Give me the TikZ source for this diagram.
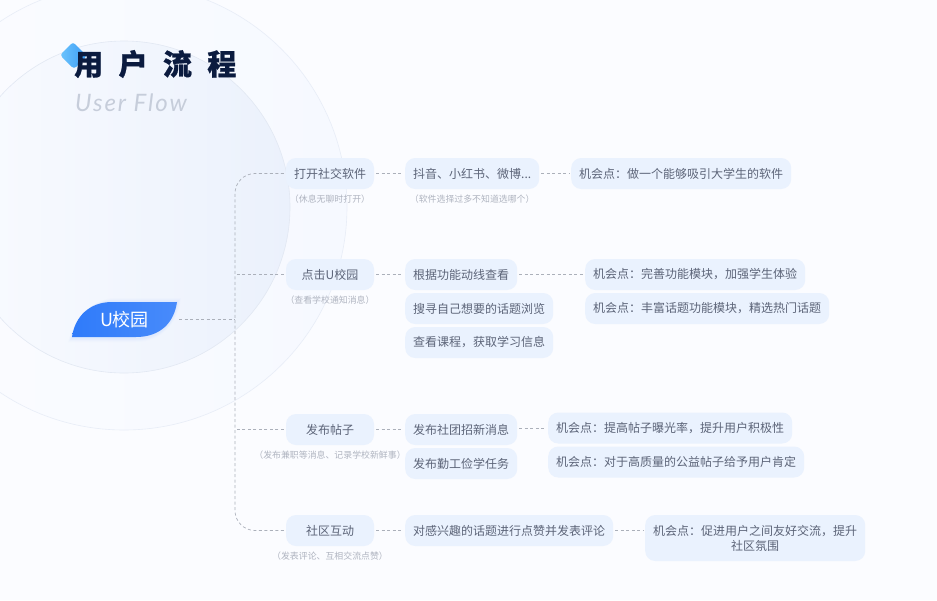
\documentclass[tikz,border=0pt]{standalone}
\usepackage{fontspec}
\usepackage{xcolor}
\setmainfont{Noto Sans CJK SC}
\newfontfamily\titlefont[LetterSpace=53,FakeBold=0.8]{Noto Sans CJK SC}
\newfontfamily\latinfont[LetterSpace=8]{Lato}
\usetikzlibrary{arrows.meta, positioning, calc}
\definecolor{pagebg}{HTML}{FBFCFF}
\definecolor{outerring}{HTML}{F6F9FF}
\definecolor{innerring}{HTML}{EBF1FC}
\definecolor{innerleft}{HTML}{F9FBFF}
\definecolor{ringline}{HTML}{E8EDF7}
\definecolor{ringline2}{HTML}{E2E8F3}
\definecolor{diamondA}{HTML}{6CC4FC}
\definecolor{diamondB}{HTML}{3A9BF6}
\definecolor{boxfill}{HTML}{EAF2FE}
\definecolor{boxtext}{HTML}{5C6478}
\definecolor{notetext}{HTML}{AFB4C0}
\definecolor{linkgray}{HTML}{ABB0BA}
\definecolor{rootblue}{HTML}{2F7BFA}
\definecolor{titledark}{HTML}{0B1B3F}
\definecolor{subgray}{HTML}{C6CDDA}

\begin{document}
\begin{tikzpicture}[
    x=1pt, y=-1pt,
    stagebox/.style={fill=boxfill, rounded corners=10pt, minimum width=88pt, minimum height=31pt, inner sep=0pt, text=boxtext, font=\fontsize{12}{15}\selectfont},
    actionbox/.style={fill=boxfill, rounded corners=10pt, minimum height=31pt, inner xsep=8pt, inner ysep=0pt, anchor=west, text=boxtext, font=\fontsize{12}{15}\selectfont},
    notelabel/.style={inner sep=0pt, text=notetext, font=\fontsize{8.9}{10}\selectfont},
    link/.style={draw=linkgray, line width=0.7pt, dash pattern=on 3pt off 2.5pt, shorten >=2pt, shorten <=2pt},
]
    \useasboundingbox (0,0) rectangle (937,600);
    \fill[pagebg] (0,0) rectangle (937,600);

    % Background circles
    \begin{scope}
        \clip (0,0) rectangle (937,600);
        \shade[left color=pagebg, right color=outerring] (124,207) circle[radius=223pt];
        \draw[ringline, line width=0.6pt] (124,207) circle[radius=223pt];
        \shade[left color=innerleft, right color=innerring] (124,207) circle[radius=166pt];
        \draw[ringline2, line width=0.6pt] (124,207) circle[radius=166pt];
    \end{scope}

    % Title
    \shade[left color=diamondA, right color=diamondB, rounded corners=3pt] (73,42) -- (87,56) -- (74,69) -- (60,55) -- cycle;
    \node[inner sep=0pt, anchor=west, text=titledark, font=\titlefont\bfseries\fontsize{29}{30}\selectfont] (title) at (74,64) {用户流程};
    \node[inner sep=0pt, anchor=west, text=subgray, font=\latinfont\itshape\fontsize{24}{28}\selectfont] (subtitle) at (75,103) {User Flow};

    % Root
    \foreach \d/\o in {1/0.12, 2/0.10, 3/0.08, 4/0.06}
        \fill[rootblue!30, opacity=\o] (72-\d,338+\d) .. controls (76,316) and (90,302) .. (112,302-\d) -- (177+\d,302-\d) .. controls (174+\d,324) and (160,338+\d) .. (136,338+\d) -- cycle;
    \shade[left color=rootblue, right color=rootblue!88!white] (72,337) .. controls (75,316) and (90,302) .. (112,302) -- (177,302) .. controls (174,323) and (160,337) .. (136,337) -- cycle;
    \node[minimum width=105pt, minimum height=35pt, inner sep=0pt, text=white, font=\fontsize{18}{20}\selectfont] (root) at (124.5,319.5) {U校园};
    \coordinate (trunk) at (235,319.5);

    % Stages
    \node[stagebox] (open) at (330,173.5) {打开社交软件};
    \node[notelabel, below=5pt of open] (opennote) {（休息无聊时打开）};
    \node[stagebox] (click) at (330,274.5) {点击U校园};
    \node[notelabel, below=5pt of click] (clicknote) {（查看学校通知消息）};
    \node[stagebox] (post) at (330,429.5) {发布帖子};
    \node[notelabel, below=5pt of post] (postnote) {（发布兼职等消息、记录学校新鲜事）};
    \node[stagebox] (talk) at (330,530.5) {社区互动};
    \node[notelabel, below=5pt of talk] (talknote) {（发表评论、互相交流点赞）};

    % Actions
    \node[actionbox] (apps) at (405,173.5) {抖音、小红书、微博...};
    \node[actionbox] (route) at (405,274.5) {根据功能动线查看};
    \node[actionbox] (search) at (405,308.5) {搜寻自己想要的话题浏览};
    \node[actionbox] (course) at (405,342.5) {查看课程，获取学习信息};
    \node[actionbox] (club) at (405,429.5) {发布社团招新消息};
    \node[actionbox] (work) at (405,463.5) {发布勤工俭学任务};
    \node[actionbox] (like) at (405,530.5) {对感兴趣的话题进行点赞并发表评论};
    \node[notelabel, below=5pt of apps] (appsnote) {（软件选择过多不知道选哪个）};

    % Chances
    \node[actionbox] (c1) at (571,173.5) {机会点：做一个能够吸引大学生的软件};
    \node[actionbox] (c2) at (585,274.5) {机会点：完善功能模块，加强学生体验};
    \node[actionbox] (c3) at (585,308.5) {机会点：丰富话题功能模块，精选热门话题};
    \node[actionbox] (c4) at (548,428) {机会点：提高帖子曝光率，提升用户积极性};
    \node[actionbox] (c5) at (548,462) {机会点：对于高质量的公益帖子给予用户肯定};
    \node[actionbox, minimum height=46pt, align=center] (c6) at (645,538) {机会点：促进用户之间友好交流，提升\\社区氛围};

    % Trunk
    \draw[link, shorten >=0pt] (root.east) -- (trunk);
    \draw[link, rounded corners=20pt, shorten >=0pt] (open.west) -| (trunk);
    \draw[link, shorten >=0pt] (click.west) -- (click.west -| trunk);
    \draw[link, shorten >=0pt] (post.west) -- (post.west -| trunk);
    \draw[link, rounded corners=20pt, shorten >=0pt] (talk.west) -| (trunk);

    % Branches
    \draw[link] (open) -- (apps);
    \draw[link] (apps) -- (c1);
    \draw[link] (click) -- (route);
    \draw[link] (route) -- (c2);
    \draw[link] (post) -- (club);
    \draw[link] (club.east |- c4.west) -- (c4.west);
    \draw[link] (talk) -- (like);
    \draw[link] (like.east) -- (like.east -| c6.west);
\end{tikzpicture}
\end{document}
